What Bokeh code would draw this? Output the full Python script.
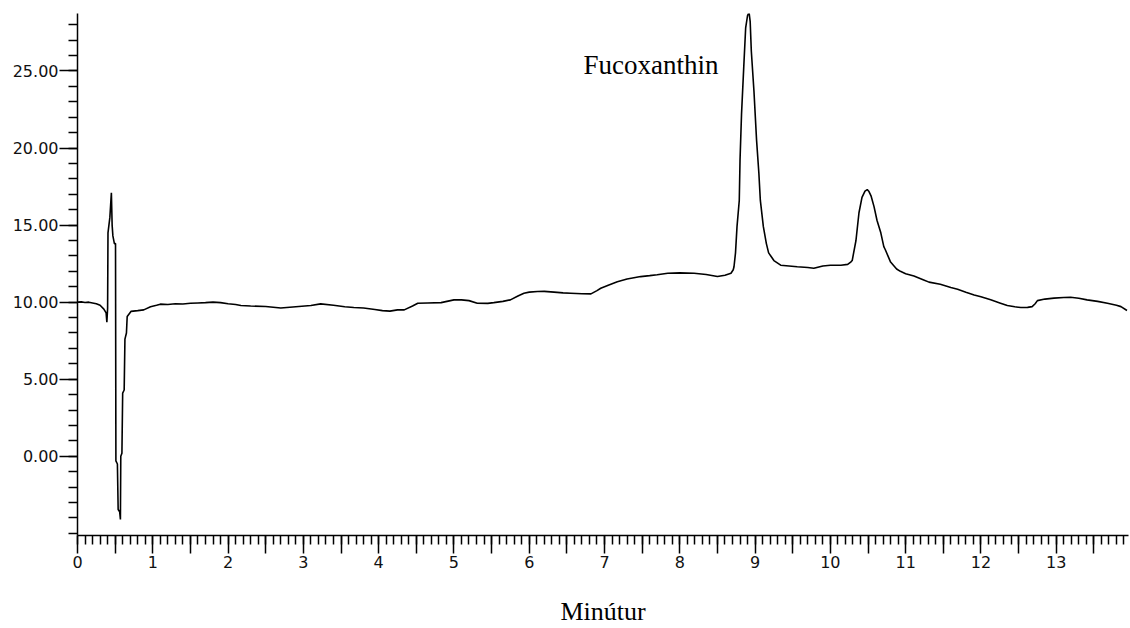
from bokeh.plotting import figure
from bokeh.models import FixedTicker, Label, Range1d
from bokeh.embed import file_html
from bokeh.resources import INLINE

# Chromatogram trace (retention time in minutes, detector signal)
minutes = [
    0.00, 0.05, 0.10, 0.15, 0.20, 0.25, 0.30, 0.35, 0.38, 0.39, 0.40, 0.405,
    0.43, 0.45, 0.46, 0.47, 0.49, 0.505, 0.51, 0.53, 0.54, 0.56, 0.57, 0.575,
    0.59, 0.60, 0.62, 0.63, 0.65, 0.66, 0.71, 0.80, 0.88, 0.97, 1.05, 1.10,
    1.20, 1.30, 1.40, 1.50, 1.60, 1.70, 1.80, 1.90, 2.00, 2.10, 2.17, 2.30,
    2.50, 2.70, 2.90, 3.10, 3.23, 3.40, 3.55, 3.67, 3.80, 3.95, 4.05, 4.15,
    4.25, 4.34, 4.45, 4.52, 4.65, 4.83, 5.00, 5.10, 5.20, 5.31, 5.45, 5.53,
    5.65, 5.75, 5.85, 5.93, 6.00, 6.11, 6.20, 6.33, 6.45, 6.55, 6.70, 6.82,
    6.90, 6.95, 7.05, 7.17, 7.30, 7.48, 7.60, 7.70, 7.84, 8.00, 8.19, 8.35,
    8.50, 8.60, 8.68, 8.71, 8.72, 8.74, 8.76, 8.79, 8.80, 8.82, 8.85, 8.875,
    8.90, 8.92, 8.935, 8.95, 8.985, 9.02, 9.05, 9.07, 9.11, 9.15, 9.18, 9.25,
    9.34, 9.45, 9.56, 9.70, 9.78, 9.90, 10.00, 10.14, 10.23, 10.27, 10.29, 10.34,
    10.38, 10.42, 10.46, 10.49, 10.51, 10.54, 10.58, 10.62, 10.67, 10.71, 10.73, 10.80,
    10.88, 10.93, 11.00, 11.11, 11.24, 11.31, 11.46, 11.60, 11.69, 11.80, 11.91, 12.00,
    12.13, 12.25, 12.35, 12.45, 12.53, 12.62, 12.68, 12.72, 12.75, 12.85, 12.97, 13.10,
    13.19, 13.30, 13.41, 13.55, 13.68, 13.80, 13.86, 13.94,
]
signal = [
    10.00, 10.02, 9.98, 10.00, 9.95, 9.90, 9.80, 9.55, 9.30, 8.70, 9.60, 14.50,
    15.50, 17.10, 15.00, 14.30, 13.80, 13.80, -0.30, -0.50, -3.45, -3.60, -4.10, 0.00,
    0.20, 4.10, 4.30, 7.60, 8.00, 9.07, 9.40, 9.45, 9.50, 9.70, 9.80, 9.87,
    9.85, 9.90, 9.88, 9.93, 9.95, 9.97, 10.00, 9.97, 9.90, 9.85, 9.78, 9.75,
    9.72, 9.62, 9.70, 9.78, 9.89, 9.80, 9.70, 9.65, 9.62, 9.52, 9.45, 9.42,
    9.50, 9.50, 9.75, 9.93, 9.95, 9.97, 10.15, 10.15, 10.10, 9.93, 9.92, 9.97,
    10.05, 10.15, 10.40, 10.58, 10.65, 10.69, 10.70, 10.65, 10.60, 10.58, 10.55, 10.54,
    10.75, 10.90, 11.10, 11.33, 11.50, 11.66, 11.72, 11.78, 11.88, 11.90, 11.88, 11.80,
    11.66, 11.75, 11.88, 12.10, 12.30, 13.20, 14.90, 16.60, 19.20, 22.20, 25.30, 27.80,
    28.60, 28.80, 28.20, 26.30, 23.70, 20.50, 18.40, 16.60, 14.90, 13.80, 13.20, 12.70,
    12.40, 12.35, 12.30, 12.25, 12.20, 12.35, 12.40, 12.40, 12.45, 12.60, 12.70, 14.00,
    15.80, 16.80, 17.20, 17.30, 17.20, 16.90, 16.20, 15.30, 14.50, 13.60, 13.40, 12.60,
    12.15, 12.00, 11.85, 11.70, 11.44, 11.30, 11.16, 10.95, 10.84, 10.65, 10.47, 10.35,
    10.15, 9.95, 9.78, 9.70, 9.65, 9.66, 9.71, 9.90, 10.10, 10.20, 10.26, 10.30,
    10.32, 10.25, 10.15, 10.05, 9.93, 9.80, 9.71, 9.46,
]

peak_name = "Fucoxanthin"
peak_label_pos = (6.72, 25.4)
x_title = "Minútur"

x_major = [i * 0.5 for i in range(0, 28)]
x_minor = [i * 0.1 for i in range(0, 140)]
y_major = [0, 5, 10, 15, 20, 25]
y_minor = list(range(-5, 29))

p = figure(
    width=1130, height=628,
    output_backend="svg", toolbar_location=None,
    x_range=Range1d(0, 13.96), y_range=Range1d(-5.14, 28.73),
    min_border_left=77, min_border_right=2, min_border_top=13, min_border_bottom=92,
)
p.outline_line_color = None
p.grid.visible = False
p.background_fill_color = "white"
p.border_fill_color = "white"

p.line(minutes, signal, line_color="black", line_width=1.6)

lbl_font = "DejaVu Sans"
# x axis
xa = p.xaxis[0]
xa.ticker = FixedTicker(ticks=x_major, minor_ticks=x_minor)
xa.major_label_overrides = {t: (str(int(t)) if abs(t - round(t)) < 1e-9 else "") for t in x_major}
xa.major_tick_out = 18
xa.major_tick_in = 0
xa.minor_tick_out = 9
xa.minor_tick_in = 0
xa.major_label_standoff = 2
xa.axis_label = x_title
xa.axis_label_text_font = "Liberation Serif"
xa.axis_label_text_font_size = "26px"
xa.axis_label_text_font_style = "normal"
xa.axis_label_text_color = "black"
xa.axis_label_standoff = 26

# y axis
ya = p.yaxis[0]
ya.ticker = FixedTicker(ticks=y_major, minor_ticks=y_minor)
ya.major_label_overrides = {t: f"{t:.2f}" for t in y_major}
ya.major_tick_out = 18
ya.major_tick_in = 0
ya.minor_tick_out = 9
ya.minor_tick_in = 0
ya.major_label_standoff = 1

for ax in (xa, ya):
    ax.axis_line_color = "black"
    ax.axis_line_width = 1.5
    ax.major_tick_line_color = "black"
    ax.major_tick_line_width = 1.5
    ax.minor_tick_line_color = "black"
    ax.minor_tick_line_width = 1.5
    ax.major_label_text_font = lbl_font
    ax.major_label_text_font_size = "16px"
    ax.major_label_text_color = "#111111"

p.add_layout(Label(
    x=peak_label_pos[0], y=peak_label_pos[1], text=peak_name,
    text_font="Liberation Serif", text_font_size="27px",
    text_color="black", text_baseline="alphabetic", text_align="left",
))

open("out.html", "w").write(file_html(p, INLINE))
